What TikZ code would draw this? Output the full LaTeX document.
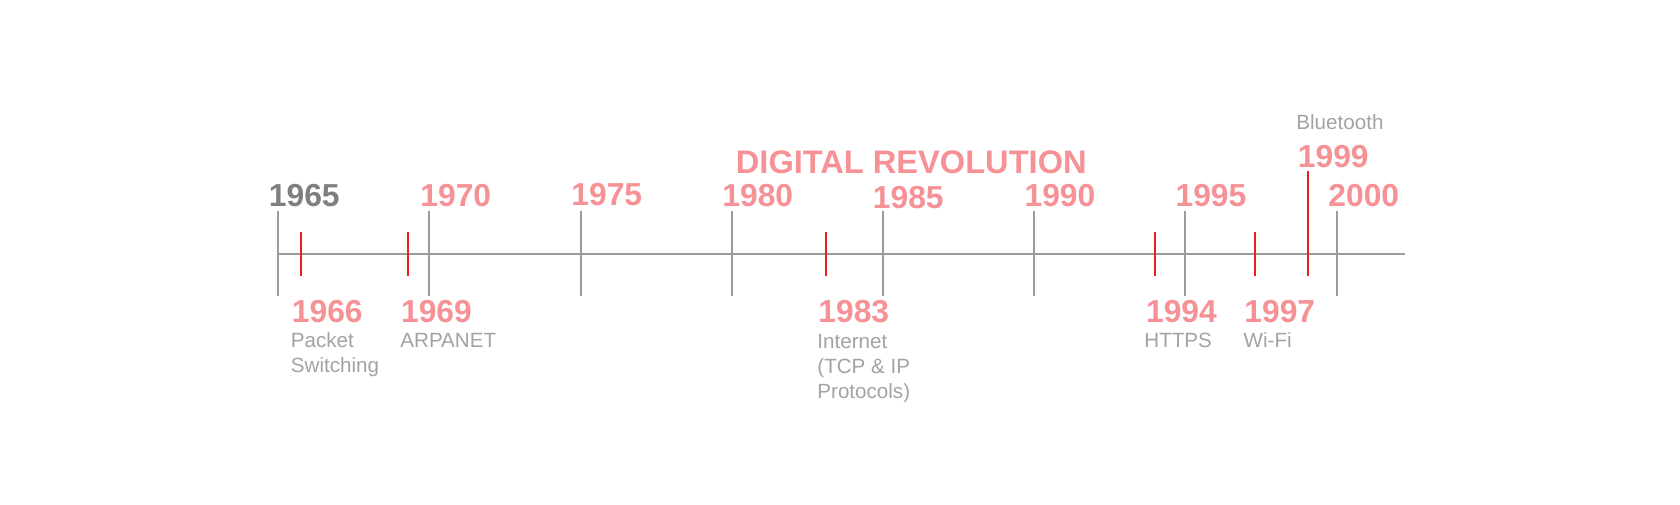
\documentclass[tikz,border=0pt]{standalone}
\usepackage{fontspec}
\setmainfont{Liberation Sans}
\definecolor{pinkc}{HTML}{F69196}
\definecolor{tickred}{HTML}{EE1D25}
\definecolor{linegray}{HTML}{9B9B9B}
\definecolor{darkgray}{HTML}{7F7F7F}
\definecolor{notegray}{HTML}{A3A3A3}
\begin{document}
\begin{tikzpicture}[x=0.5pt,y=-0.5pt,
  year/.style={anchor=base west,inner sep=0pt,font=\fontsize{15.9}{19}\selectfont\bfseries,text=pinkc},
  note/.style={anchor=base west,inner sep=0pt,font=\fontsize{10.3}{12.5}\selectfont,text=notegray,align=left},
  major/.style={draw=linegray,line width=1pt},
  minor/.style={draw=tickred,line width=1pt}]
\useasboundingbox[fill=white] (0,0) rectangle (1680,504);
% axis
\coordinate (axA) at (278,254);
\coordinate (axB) at (1405,254);
\draw[major] (axA) -- (axB);
% major ticks
\foreach \n/\x in {t1965/278,t1970/429.3,t1975/580.5,t1980/731.7,t1985/882.7,t1990/1033.7,t1995/1185,t2000/1336.7}{
  \coordinate (\n a) at (\x,210.5);
  \coordinate (\n b) at (\x,296);
  \draw[major] (\n a) -- (\n b);
}
% minor ticks
\foreach \n/\x in {m1966/300.7,m1969/407.7,m1983/826,m1994/1155.3,m1997/1254.7}{
  \coordinate (\n a) at (\x,231.7);
  \coordinate (\n b) at (\x,276);
  \draw[minor] (\n a) -- (\n b);
}
\coordinate (m1999a) at (1308.3,171.3);
\coordinate (m1999b) at (1308.3,275.7);
\draw[minor] (m1999a) -- (m1999b);
% top years
\node[year,text=darkgray] (y1965) at (268.5,206.7) {1965};
\node[year] (y1970) at (420,206.7) {1970};
\node[year] (y1975) at (571,205.5) {1975};
\node[year] (y1980) at (722,206) {1980};
\node[year] (y1985) at (872.5,208.3) {1985};
\node[year] (y1990) at (1024.2,206) {1990};
\node[year] (y1995) at (1175.2,206) {1995};
\node[year] (y2000) at (1328,206) {2000};
\node[year] (y1999) at (1297.5,167.7) {1999};
\node[year,font=\fontsize{16.3}{19}\selectfont\bfseries] (title) at (735.5,173.3) {DIGITAL REVOLUTION};
\node[note] (nbt) at (1296,129) {Bluetooth};
% bottom years
\node[year] (y1966) at (291.5,322.3) {1966};
\node[year] (y1969) at (400.7,322.3) {1969};
\node[year] (y1983) at (818,322.7) {1983};
\node[year] (y1994) at (1145.7,322.5) {1994};
\node[year] (y1997) at (1244,322.5) {1997};
% notes (anchor = baseline of last line)
\node[note] (n1966) at (290.5,372.3) {Packet\\Switching};
\node[note] (n1969) at (400,347.3) {ARPANET};
\node[note] (n1983) at (817,398.3) {Internet\\(TCP \& IP\\Protocols)};
\node[note] (n1994) at (1144,347) {HTTPS};
\node[note] (n1997) at (1243.3,347) {Wi-Fi};
\end{tikzpicture}
\end{document}
